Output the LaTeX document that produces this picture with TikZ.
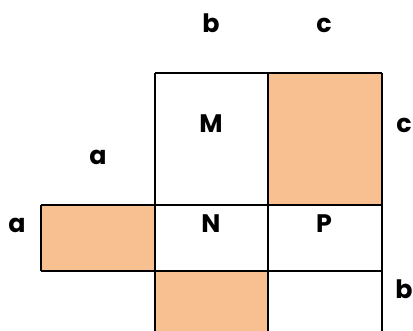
\documentclass[tikz,border=0pt]{standalone}
\usepackage{fontspec}
\setmainfont{Poppins}
\definecolor{naranja}{HTML}{F8C091}
\tikzset{
  etiq/.style={font=\fontsize{19}{22}\selectfont\bfseries, anchor=base, inner sep=0pt},
  borde/.style={line width=1.6pt}
}
\begin{document}
\begin{tikzpicture}[x=0.75pt,y=-0.75pt]
    \clip (0,0) rectangle (413,331);
    \useasboundingbox (0,0) rectangle (413,331);
    % Rellenos
    \fill[naranja] (268,73) rectangle (382,205);
    \fill[naranja] (41,205) rectangle (155,271);
    \fill[naranja] (155,271) rectangle (268,335);
    % Lineas de la figura
    \draw[borde] (155,335) -- (155,73);
    \draw[borde] (268,335) -- (268,73);
    \draw[borde] (382,335) -- (382,73);
    \draw[borde] (155,73) -- (382,73);
    \draw[borde] (41,205) -- (382,205);
    \draw[borde] (41,271) -- (382,271);
    \draw[borde] (41,205) -- (41,271);
    % Etiquetas
    \node[etiq] (bsup) at (211,33) {b};
    \node[etiq] (csup) at (324,33) {c};
    \node[etiq] (aint) at (98,165) {a};
    \node[etiq] (M) at (211,133) {M};
    \node[etiq] (cder) at (404,133) {c};
    \node[etiq] (aizq) at (17,232) {a};
    \node[etiq] (N) at (211,232) {N};
    \node[etiq] (P) at (324,232) {P};
    \node[etiq] (bder) at (404,298) {b};
\end{tikzpicture}
\end{document}
